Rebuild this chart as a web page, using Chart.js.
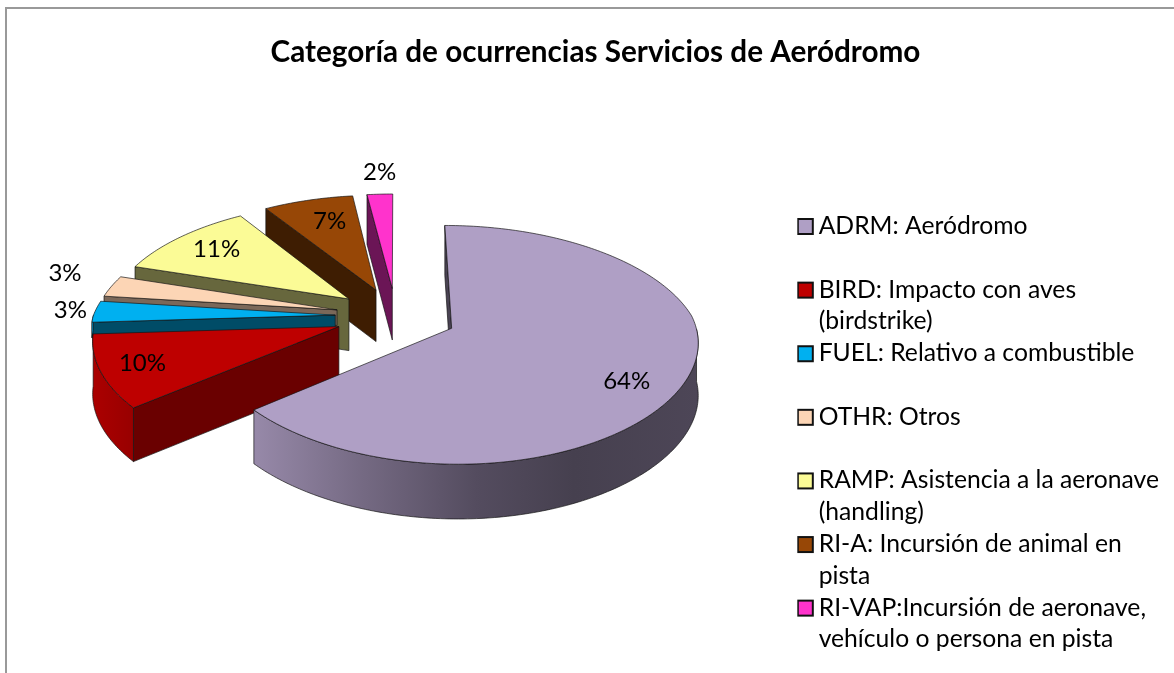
<!DOCTYPE html>
<html><head><meta charset="utf-8">
<style>html,body{margin:0;padding:0;background:#fff}canvas{display:block}</style>
<script src="https://cdn.jsdelivr.net/npm/chart.js@4/dist/chart.umd.js"></script>
</head><body><canvas id="c" width="1174" height="673"></canvas>
<script>
const titleText = 'Categoría de ocurrencias Servicios de Aeródromo';
const categories = [
  ['ADRM: Aeródromo',''],
  ['BIRD: Impacto con aves','(birdstrike)'],
  ['FUEL: Relativo a combustible',''],
  ['OTHR: Otros',''],
  ['RAMP: Asistencia a la aeronave','(handling)'],
  ['RI-A: Incursión de animal en','pista'],
  ['RI-VAP:Incursión de aeronave,','vehículo o persona en pista']
];
const percentages = [64,10,3,3,11,7,2];
const sliceColors = ['#AF9FC5','#BE0000','#00B0F0','#FCD5B5','#FBFB96','#974706','#FF33CC'];
const wallShade = [0.42,0.56,0.43,0.49,0.41,0.41,0.42];
const wallDepth = [1,1,0.3,0.3,1,1,1];
const labelRadius = [.80,.83,1.105,1.25,.78,.74,1.265];
const labelTurn = [7.4,0,.4,3.5,.7,2,0.6];
const explode = 51.2;
const FONT = 'Lato, Carlito, sans-serif';

// camera of the 3D projection
const cam = {cx:396, cy:316, rx:242, ry:112.7, d:7, h:52};
function proj(X,Y,z){
  const s = cam.d/(cam.d-Y);
  const sx = Y<0 ? s : Math.pow(s,0.7), sy = Y<0 ? Math.pow(s,0.88) : s;
  return [cam.cx+X*cam.rx*sx, cam.cy+cam.ry*Y*sy+z*cam.h*Math.pow(s,0.3)];
}
function shade(hex,f){
  const n=parseInt(hex.slice(1),16);
  return 'rgb('+[(n>>16)&255,(n>>8)&255,n&255].map(v=>Math.round(v*f)).join(',')+')';
}
function poly(ctx,pts,fill){
  ctx.beginPath();
  pts.forEach((p,i)=>i?ctx.lineTo(p[0],p[1]):ctx.moveTo(p[0],p[1]));
  ctx.closePath();
  ctx.fillStyle=fill;ctx.fill();
  ctx.lineWidth=0.8;ctx.strokeStyle='rgba(20,20,20,.85)';ctx.stroke();
}
function swatch(color){
  const c=document.createElement('canvas');c.width=30;c.height=24;
  const x=c.getContext('2d');
  x.fillStyle=color;x.fillRect(11,5,15,15);
  x.strokeStyle='#111';x.lineWidth=2;x.strokeRect(11,5,15,15);
  return c;
}
const pie3d = {
  id:'pie3d',
  beforeDraw(chart){
    const ctx=chart.ctx;ctx.save();
    ctx.fillStyle='#fff';ctx.fillRect(0,0,chart.width,chart.height);
    ctx.strokeStyle='#999';ctx.lineWidth=2;
    ctx.beginPath();ctx.moveTo(6,chart.height);ctx.lineTo(6,8);ctx.lineTo(chart.width,8);ctx.stroke();
    ctx.restore();
  },
  beforeDatasetDraw(chart,args){
    const ctx=chart.ctx, arcs=args.meta.data;
    const items=arcs.map((a,i)=>{
      const mid=(a.startAngle+a.endAngle)/2, o=a.options.offset/a.outerRadius;
      return {a,i,mid,ox:o*Math.cos(mid),oy:o*Math.sin(mid)};
    }).sort((p,q)=>p.oy-q.oy);
    ctx.save();
    for(const it of items){
      const {a,i,mid,ox,oy}=it, col=a.options.backgroundColor, dz=wallDepth[i];
      const n=Math.max(8,Math.ceil((a.endAngle-a.startAngle)*60));
      const pt=k=>{const t=a.startAngle+(a.endAngle-a.startAngle)*k/n;return [ox+Math.cos(t),oy+Math.sin(t)];};
      const wall=shade(col,wallShade[i]);
      if(-Math.cos(a.startAngle)>-1e-6){
        const e=pt(0);
        poly(ctx,[proj(ox,oy,0),proj(e[0],e[1],0),proj(e[0],e[1],dz),proj(ox,oy,dz)],wall);
      }
      if(Math.cos(a.endAngle)>1e-6){
        const e=pt(n);
        poly(ctx,[proj(ox,oy,0),proj(e[0],e[1],0),proj(e[0],e[1],dz),proj(ox,oy,dz)],wall);
      }
      const front=[];
      for(let k=0;k<=n;k++){const t=a.startAngle+(a.endAngle-a.startAngle)*k/n;if(Math.sin(t)>=-0.005)front.push(pt(k));}
      if(front.length>1){
        const xs=front.map(p=>proj(p[0],p[1],0)[0]);
        const x0=Math.min(...xs),x1=Math.max(...xs);
        const g=ctx.createLinearGradient(x0,0,x1,0);
        if(i===0){
          g.addColorStop(0,shade(col,.86));g.addColorStop(.25,shade(col,.66));
          g.addColorStop(.5,shade(col,.48));g.addColorStop(.72,shade(col,.40));g.addColorStop(1,shade(col,.44));
        }else{
          g.addColorStop(0,shade(col,.9));g.addColorStop(1,shade(col,.8));
        }
        const up=front.map(p=>proj(p[0],p[1],0)), dn=front.map(p=>proj(p[0],p[1],dz)).reverse();
        poly(ctx,up.concat(dn),g);
      }
      const top=[proj(ox,oy,0)];
      for(let k=0;k<=n;k++){const p=pt(k);top.push(proj(p[0],p[1],0));}
      poly(ctx,top,col);
    }
    ctx.fillStyle='#000';ctx.font='24px '+FONT;ctx.textAlign='center';ctx.textBaseline='middle';
    for(const it of items){
      const t=it.mid+labelTurn[it.i]*Math.PI/180, r=labelRadius[it.i];
      const p=proj(it.ox+r*Math.cos(t),it.oy+r*Math.sin(t),0);
      ctx.fillText(percentages[it.i]+'%',p[0],p[1]);
    }
    ctx.restore();
    return false;
  }
};
new Chart(document.getElementById('c'),{
  type:'pie',
  data:{labels:categories,datasets:[{data:percentages,backgroundColor:sliceColors,borderColor:'#111',borderWidth:1,offset:explode}]},
  options:{
    responsive:false,animation:false,
    layout:{padding:{left:22,right:5,top:0,bottom:0}},
    plugins:{
      tooltip:{enabled:false},
      title:{display:true,text:titleText,color:'#000',align:'center',
        font:{family:FONT,size:29.7,weight:'bold',lineHeight:1.2},
        padding:{top:35,bottom:143}},
      legend:{position:'right',align:'start',fullSize:false,
        labels:{font:{family:FONT,size:24.7,lineHeight:1.2875},color:'#000',usePointStyle:true,pointStyleWidth:9,boxHeight:15,padding:0,
          generateLabels(chart){
            return chart.data.labels.map((t,i)=>({text:t,fillStyle:sliceColors[i],strokeStyle:'#111',lineWidth:2,index:i,hidden:false,pointStyle:swatch(sliceColors[i])}));
          }}}
    }
  },
  plugins:[pie3d]
});
</script></body></html>
